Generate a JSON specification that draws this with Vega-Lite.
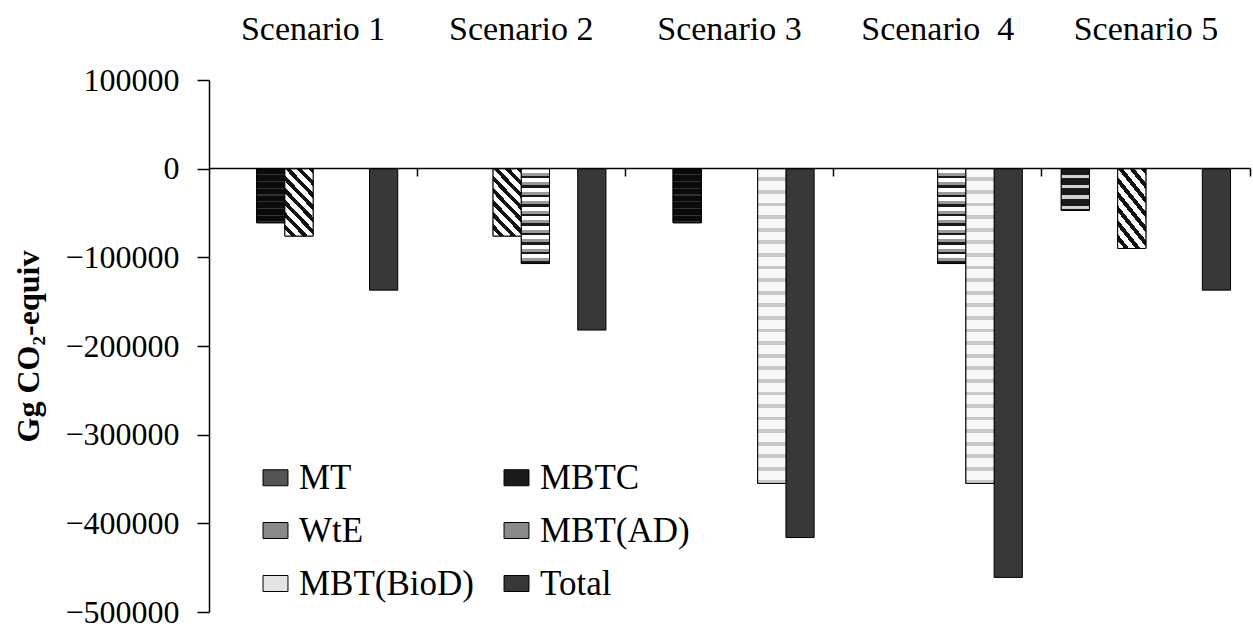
{
  "$schema": "https://vega.github.io/schema/vega-lite/v6.json",
  "width": 1041,
  "height": 532,
  "autosize": {"type": "none"},
  "padding": {"left": 209, "top": 80, "right": 3, "bottom": 12},
  "background": "white",
  "config": {
    "view": {"stroke": null},
    "font": "Liberation Serif",
    "axis": {"grid": false, "labelFont": "Liberation Serif", "titleFont": "Liberation Serif", "labelColor": "#000", "titleColor": "#000"}
  },
  "data": {
    "values": [
      {"scenario": "Scenario 1", "series": "MBTC", "value": -61000},
      {"scenario": "Scenario 1", "series": "WtE", "value": -76000},
      {"scenario": "Scenario 1", "series": "Total", "value": -137000},
      {"scenario": "Scenario 2", "series": "WtE", "value": -76000},
      {"scenario": "Scenario 2", "series": "MBT(AD)", "value": -107000},
      {"scenario": "Scenario 2", "series": "Total", "value": -182000},
      {"scenario": "Scenario 3", "series": "MBTC", "value": -61000},
      {"scenario": "Scenario 3", "series": "MBT(BioD)", "value": -355000},
      {"scenario": "Scenario 3", "series": "Total", "value": -416000},
      {"scenario": "Scenario\u00a0 4", "series": "MBT(AD)", "value": -107000},
      {"scenario": "Scenario\u00a0 4", "series": "MBT(BioD)", "value": -355000},
      {"scenario": "Scenario\u00a0 4", "series": "Total", "value": -461000},
      {"scenario": "Scenario 5", "series": "MT", "value": -47000},
      {"scenario": "Scenario 5", "series": "WtE", "value": -90000},
      {"scenario": "Scenario 5", "series": "Total", "value": -137000}
    ]
  },
  "encoding": {
    "x": {"field": "scenario", "type": "nominal", "sort": null, "scale": {"paddingInner": 0, "paddingOuter": 0}, "axis": null},
    "xOffset": {"field": "series", "type": "nominal", "scale": {"domain": ["MT", "MBTC", "WtE", "MBT(AD)", "MBT(BioD)", "Total"], "paddingInner": 0, "paddingOuter": 0.69}},
    "y": {
      "field": "value", "type": "quantitative",
      "scale": {"domain": [-500000, 100000], "nice": false, "zero": false},
      "axis": {
        "values": [-500000, -400000, -300000, -200000, -100000, 0, 100000],
        "format": "d",
        "domain": true, "domainColor": "#000", "domainWidth": 1.5,
        "ticks": true, "tickColor": "#000", "tickSize": 12, "tickWidth": 1.5,
        "labelFontSize": 32, "labelPadding": 18,
        "title": "Gg CO\u2082-equiv", "titleFontSize": 32, "titleFontWeight": "bold",
        "titleX": -181, "titleY": 266, "titleAngle": 270, "titleAlign": "center", "titleBaseline": "middle"
      }
    }
  },
  "layer": [
    {
      "mark": {"type": "bar", "stroke": "#000", "strokeWidth": 1},
      "encoding": {
        "x": {
          "field": "scenario", "type": "nominal", "sort": null,
          "axis": {"orient": "top", "title": null, "domain": false, "ticks": false, "tickSize": 0, "labelAngle": 0, "labelFontSize": 34, "labelBaseline": "alphabetic", "labelPadding": 41}
        },
        "fill": {
          "field": "series", "type": "nominal",
          "scale": {
            "domain": ["MT", "MBTC", "WtE", "MBT(AD)", "MBT(BioD)", "Total"],
            "range": ["#555555", "#1a1a1a", "#8a8a8a", "#8a8a8a", "#e4e4e4", "#383838"]
          },
          "legend": {
            "orient": "none", "legendX": 49, "legendY": 380, "columns": 2, "direction": "horizontal", "title": null, "padding": 0,
            "symbolType": "M-1.56,-1H1.56V1H-1.56Z", "symbolSize": 256, "symbolStrokeColor": "#000", "symbolStrokeWidth": 1,
            "labelFont": "Liberation Serif", "labelFontSize": 35, "labelColor": "#000", "labelOffset": 6,
            "rowPadding": 17, "columnPadding": 25, "labelLimit": 400
          }
        }
      }
    },
    {
      "transform": [{"filter": "datum.series === 'MT'"}],
      "mark": {"type": "bar", "stroke": "#000", "strokeWidth": 1, "fill": {"gradient": "linear", "x1": 0, "y1": 0, "x2": 0, "y2": 1, "stops": [
        {"offset": 0, "color": "#1a1a1a"}, {"offset": 0.14, "color": "#1a1a1a"}, {"offset": 0.14, "color": "#d0d0d0"}, {"offset": 0.22, "color": "#d0d0d0"}, {"offset": 0.22, "color": "#1a1a1a"},
        {"offset": 0.39, "color": "#1a1a1a"}, {"offset": 0.39, "color": "#d0d0d0"}, {"offset": 0.47, "color": "#d0d0d0"}, {"offset": 0.47, "color": "#1a1a1a"},
        {"offset": 0.64, "color": "#1a1a1a"}, {"offset": 0.64, "color": "#d0d0d0"}, {"offset": 0.72, "color": "#d0d0d0"}, {"offset": 0.72, "color": "#1a1a1a"},
        {"offset": 0.89, "color": "#1a1a1a"}, {"offset": 0.89, "color": "#d0d0d0"}, {"offset": 0.97, "color": "#d0d0d0"}, {"offset": 0.97, "color": "#1a1a1a"}, {"offset": 1, "color": "#1a1a1a"}
      ]}}
    },
    {
      "transform": [{"filter": "datum.series === 'MBTC'"}],
      "mark": {"type": "bar", "stroke": "#000", "strokeWidth": 1, "fill": {"gradient": "linear", "x1": 0, "y1": 0, "x2": 0, "y2": 1, "stops": [
        {"offset": 0, "color": "#0a0a0a"}, {"offset": 0.1, "color": "#0a0a0a"}, {"offset": 0.1, "color": "#333"}, {"offset": 0.125, "color": "#333"},
        {"offset": 0.125, "color": "#0a0a0a"}, {"offset": 0.225, "color": "#0a0a0a"}, {"offset": 0.225, "color": "#333"}, {"offset": 0.25, "color": "#333"},
        {"offset": 0.25, "color": "#0a0a0a"}, {"offset": 0.35, "color": "#0a0a0a"}, {"offset": 0.35, "color": "#333"}, {"offset": 0.375, "color": "#333"},
        {"offset": 0.375, "color": "#0a0a0a"}, {"offset": 0.475, "color": "#0a0a0a"}, {"offset": 0.475, "color": "#333"}, {"offset": 0.5, "color": "#333"},
        {"offset": 0.5, "color": "#0a0a0a"}, {"offset": 0.6, "color": "#0a0a0a"}, {"offset": 0.6, "color": "#333"}, {"offset": 0.625, "color": "#333"},
        {"offset": 0.625, "color": "#0a0a0a"}, {"offset": 0.725, "color": "#0a0a0a"}, {"offset": 0.725, "color": "#333"}, {"offset": 0.75, "color": "#333"},
        {"offset": 0.75, "color": "#0a0a0a"}, {"offset": 0.85, "color": "#0a0a0a"}, {"offset": 0.85, "color": "#333"}, {"offset": 0.875, "color": "#333"},
        {"offset": 0.875, "color": "#0a0a0a"}, {"offset": 0.975, "color": "#0a0a0a"}, {"offset": 0.975, "color": "#333"}, {"offset": 1, "color": "#333"}
      ]}}
    },
    {
      "transform": [{"filter": "datum.series === 'WtE'"}],
      "mark": {"type": "bar", "stroke": "#000", "strokeWidth": 1, "fill": {"gradient": "linear", "x1": 1, "y1": 0, "x2": 0.469, "y2": 1.206, "stops": [
        {"offset": 0, "color": "#111"}, {"offset": 0.056, "color": "#111"}, {"offset": 0.056, "color": "#fff"}, {"offset": 0.125, "color": "#fff"},
        {"offset": 0.125, "color": "#111"}, {"offset": 0.181, "color": "#111"}, {"offset": 0.181, "color": "#fff"}, {"offset": 0.25, "color": "#fff"},
        {"offset": 0.25, "color": "#111"}, {"offset": 0.306, "color": "#111"}, {"offset": 0.306, "color": "#fff"}, {"offset": 0.375, "color": "#fff"},
        {"offset": 0.375, "color": "#111"}, {"offset": 0.431, "color": "#111"}, {"offset": 0.431, "color": "#fff"}, {"offset": 0.5, "color": "#fff"},
        {"offset": 0.5, "color": "#111"}, {"offset": 0.556, "color": "#111"}, {"offset": 0.556, "color": "#fff"}, {"offset": 0.625, "color": "#fff"},
        {"offset": 0.625, "color": "#111"}, {"offset": 0.681, "color": "#111"}, {"offset": 0.681, "color": "#fff"}, {"offset": 0.75, "color": "#fff"},
        {"offset": 0.75, "color": "#111"}, {"offset": 0.806, "color": "#111"}, {"offset": 0.806, "color": "#fff"}, {"offset": 0.875, "color": "#fff"},
        {"offset": 0.875, "color": "#111"}, {"offset": 0.931, "color": "#111"}, {"offset": 0.931, "color": "#fff"}, {"offset": 1, "color": "#fff"}
      ]}}
    },
    {
      "transform": [{"filter": "datum.series === 'MBT(AD)'"}],
      "mark": {"type": "bar", "stroke": "#000", "strokeWidth": 1, "fill": {"gradient": "linear", "x1": 0, "y1": 0, "x2": 0, "y2": 1, "stops": [
        {"offset": 0, "color": "#fff"}, {"offset": 0.045, "color": "#fff"}, {"offset": 0.045, "color": "#9a9a9a"}, {"offset": 0.075, "color": "#9a9a9a"}, {"offset": 0.075, "color": "#1a1a1a"}, {"offset": 0.1, "color": "#1a1a1a"},
        {"offset": 0.1, "color": "#fff"}, {"offset": 0.145, "color": "#fff"}, {"offset": 0.145, "color": "#9a9a9a"}, {"offset": 0.175, "color": "#9a9a9a"}, {"offset": 0.175, "color": "#1a1a1a"}, {"offset": 0.2, "color": "#1a1a1a"},
        {"offset": 0.2, "color": "#fff"}, {"offset": 0.245, "color": "#fff"}, {"offset": 0.245, "color": "#9a9a9a"}, {"offset": 0.275, "color": "#9a9a9a"}, {"offset": 0.275, "color": "#1a1a1a"}, {"offset": 0.3, "color": "#1a1a1a"},
        {"offset": 0.3, "color": "#fff"}, {"offset": 0.345, "color": "#fff"}, {"offset": 0.345, "color": "#9a9a9a"}, {"offset": 0.375, "color": "#9a9a9a"}, {"offset": 0.375, "color": "#1a1a1a"}, {"offset": 0.4, "color": "#1a1a1a"},
        {"offset": 0.4, "color": "#fff"}, {"offset": 0.445, "color": "#fff"}, {"offset": 0.445, "color": "#9a9a9a"}, {"offset": 0.475, "color": "#9a9a9a"}, {"offset": 0.475, "color": "#1a1a1a"}, {"offset": 0.5, "color": "#1a1a1a"},
        {"offset": 0.5, "color": "#fff"}, {"offset": 0.545, "color": "#fff"}, {"offset": 0.545, "color": "#9a9a9a"}, {"offset": 0.575, "color": "#9a9a9a"}, {"offset": 0.575, "color": "#1a1a1a"}, {"offset": 0.6, "color": "#1a1a1a"},
        {"offset": 0.6, "color": "#fff"}, {"offset": 0.645, "color": "#fff"}, {"offset": 0.645, "color": "#9a9a9a"}, {"offset": 0.675, "color": "#9a9a9a"}, {"offset": 0.675, "color": "#1a1a1a"}, {"offset": 0.7, "color": "#1a1a1a"},
        {"offset": 0.7, "color": "#fff"}, {"offset": 0.745, "color": "#fff"}, {"offset": 0.745, "color": "#9a9a9a"}, {"offset": 0.775, "color": "#9a9a9a"}, {"offset": 0.775, "color": "#1a1a1a"}, {"offset": 0.8, "color": "#1a1a1a"},
        {"offset": 0.8, "color": "#fff"}, {"offset": 0.845, "color": "#fff"}, {"offset": 0.845, "color": "#9a9a9a"}, {"offset": 0.875, "color": "#9a9a9a"}, {"offset": 0.875, "color": "#1a1a1a"}, {"offset": 0.9, "color": "#1a1a1a"},
        {"offset": 0.9, "color": "#fff"}, {"offset": 0.945, "color": "#fff"}, {"offset": 0.945, "color": "#9a9a9a"}, {"offset": 0.975, "color": "#9a9a9a"}, {"offset": 0.975, "color": "#1a1a1a"}, {"offset": 1, "color": "#1a1a1a"}
      ]}}
    },
    {
      "transform": [{"filter": "datum.series === 'MBT(BioD)'"}],
      "mark": {"type": "bar", "stroke": "#000", "strokeWidth": 1, "fill": {"gradient": "linear", "x1": 0, "y1": 0, "x2": 0, "y2": 1, "stops": [
        {"offset": 0, "color": "#f8f8f8"}, {"offset": 0.028, "color": "#f8f8f8"}, {"offset": 0.028, "color": "#c8c8c8"}, {"offset": 0.04, "color": "#c8c8c8"},
        {"offset": 0.04, "color": "#f8f8f8"}, {"offset": 0.068, "color": "#f8f8f8"}, {"offset": 0.068, "color": "#c8c8c8"}, {"offset": 0.08, "color": "#c8c8c8"},
        {"offset": 0.08, "color": "#f8f8f8"}, {"offset": 0.108, "color": "#f8f8f8"}, {"offset": 0.108, "color": "#c8c8c8"}, {"offset": 0.12, "color": "#c8c8c8"},
        {"offset": 0.12, "color": "#f8f8f8"}, {"offset": 0.148, "color": "#f8f8f8"}, {"offset": 0.148, "color": "#c8c8c8"}, {"offset": 0.16, "color": "#c8c8c8"},
        {"offset": 0.16, "color": "#f8f8f8"}, {"offset": 0.188, "color": "#f8f8f8"}, {"offset": 0.188, "color": "#c8c8c8"}, {"offset": 0.2, "color": "#c8c8c8"},
        {"offset": 0.2, "color": "#f8f8f8"}, {"offset": 0.228, "color": "#f8f8f8"}, {"offset": 0.228, "color": "#c8c8c8"}, {"offset": 0.24, "color": "#c8c8c8"},
        {"offset": 0.24, "color": "#f8f8f8"}, {"offset": 0.268, "color": "#f8f8f8"}, {"offset": 0.268, "color": "#c8c8c8"}, {"offset": 0.28, "color": "#c8c8c8"},
        {"offset": 0.28, "color": "#f8f8f8"}, {"offset": 0.308, "color": "#f8f8f8"}, {"offset": 0.308, "color": "#c8c8c8"}, {"offset": 0.32, "color": "#c8c8c8"},
        {"offset": 0.32, "color": "#f8f8f8"}, {"offset": 0.348, "color": "#f8f8f8"}, {"offset": 0.348, "color": "#c8c8c8"}, {"offset": 0.36, "color": "#c8c8c8"},
        {"offset": 0.36, "color": "#f8f8f8"}, {"offset": 0.388, "color": "#f8f8f8"}, {"offset": 0.388, "color": "#c8c8c8"}, {"offset": 0.4, "color": "#c8c8c8"},
        {"offset": 0.4, "color": "#f8f8f8"}, {"offset": 0.428, "color": "#f8f8f8"}, {"offset": 0.428, "color": "#c8c8c8"}, {"offset": 0.44, "color": "#c8c8c8"},
        {"offset": 0.44, "color": "#f8f8f8"}, {"offset": 0.468, "color": "#f8f8f8"}, {"offset": 0.468, "color": "#c8c8c8"}, {"offset": 0.48, "color": "#c8c8c8"},
        {"offset": 0.48, "color": "#f8f8f8"}, {"offset": 0.508, "color": "#f8f8f8"}, {"offset": 0.508, "color": "#c8c8c8"}, {"offset": 0.52, "color": "#c8c8c8"},
        {"offset": 0.52, "color": "#f8f8f8"}, {"offset": 0.548, "color": "#f8f8f8"}, {"offset": 0.548, "color": "#c8c8c8"}, {"offset": 0.56, "color": "#c8c8c8"},
        {"offset": 0.56, "color": "#f8f8f8"}, {"offset": 0.588, "color": "#f8f8f8"}, {"offset": 0.588, "color": "#c8c8c8"}, {"offset": 0.6, "color": "#c8c8c8"},
        {"offset": 0.6, "color": "#f8f8f8"}, {"offset": 0.628, "color": "#f8f8f8"}, {"offset": 0.628, "color": "#c8c8c8"}, {"offset": 0.64, "color": "#c8c8c8"},
        {"offset": 0.64, "color": "#f8f8f8"}, {"offset": 0.668, "color": "#f8f8f8"}, {"offset": 0.668, "color": "#c8c8c8"}, {"offset": 0.68, "color": "#c8c8c8"},
        {"offset": 0.68, "color": "#f8f8f8"}, {"offset": 0.708, "color": "#f8f8f8"}, {"offset": 0.708, "color": "#c8c8c8"}, {"offset": 0.72, "color": "#c8c8c8"},
        {"offset": 0.72, "color": "#f8f8f8"}, {"offset": 0.748, "color": "#f8f8f8"}, {"offset": 0.748, "color": "#c8c8c8"}, {"offset": 0.76, "color": "#c8c8c8"},
        {"offset": 0.76, "color": "#f8f8f8"}, {"offset": 0.788, "color": "#f8f8f8"}, {"offset": 0.788, "color": "#c8c8c8"}, {"offset": 0.8, "color": "#c8c8c8"},
        {"offset": 0.8, "color": "#f8f8f8"}, {"offset": 0.828, "color": "#f8f8f8"}, {"offset": 0.828, "color": "#c8c8c8"}, {"offset": 0.84, "color": "#c8c8c8"},
        {"offset": 0.84, "color": "#f8f8f8"}, {"offset": 0.868, "color": "#f8f8f8"}, {"offset": 0.868, "color": "#c8c8c8"}, {"offset": 0.88, "color": "#c8c8c8"},
        {"offset": 0.88, "color": "#f8f8f8"}, {"offset": 0.908, "color": "#f8f8f8"}, {"offset": 0.908, "color": "#c8c8c8"}, {"offset": 0.92, "color": "#c8c8c8"},
        {"offset": 0.92, "color": "#f8f8f8"}, {"offset": 0.948, "color": "#f8f8f8"}, {"offset": 0.948, "color": "#c8c8c8"}, {"offset": 0.96, "color": "#c8c8c8"},
        {"offset": 0.96, "color": "#f8f8f8"}, {"offset": 0.988, "color": "#f8f8f8"}, {"offset": 0.988, "color": "#c8c8c8"}, {"offset": 1, "color": "#c8c8c8"}
      ]}}
    },
    {
      "mark": {"type": "bar", "opacity": 0},
      "encoding": {
        "x": {
          "field": "scenario", "type": "nominal", "sort": null,
          "axis": {"orient": "bottom", "offset": -444, "title": null, "labels": false, "domain": true, "domainColor": "#000", "domainWidth": 1.5, "ticks": true, "tickColor": "#000", "tickSize": 8, "tickWidth": 1.5, "bandPosition": 1, "zindex": 1}
        }
      }
    }
  ],
  "resolve": {"axis": {"x": "independent"}}
}
